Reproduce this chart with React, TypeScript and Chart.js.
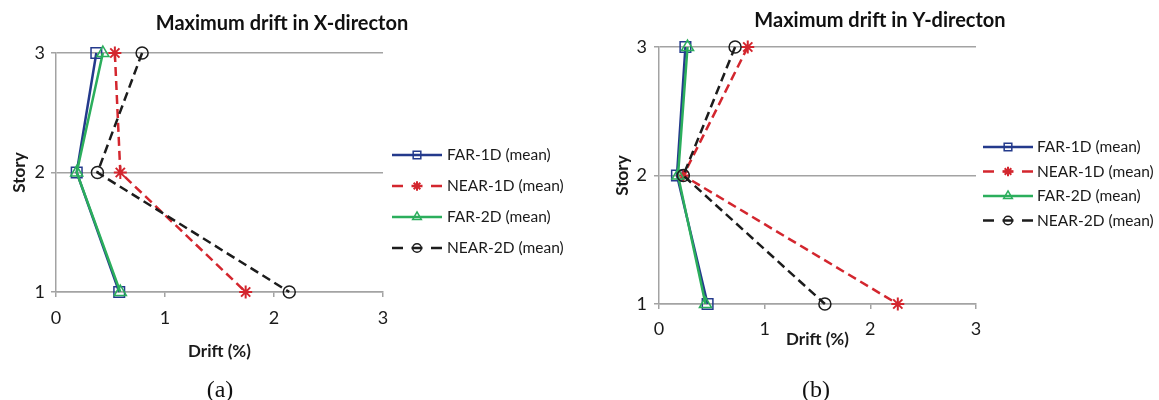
import React, { useEffect, useRef } from "react";
import { Chart, registerables } from "chart.js";
import { drawPoint } from "chart.js/helpers";

Chart.register(...registerables);

// ---------------- data ----------------
const stories = [3, 2, 1];
const driftTicks = [0, 1, 2, 3];
const seriesLabels = ["FAR-1D (mean)", "NEAR-1D (mean)", "FAR-2D (mean)", "NEAR-2D (mean)"];

// (a) X-direction
const farX1D = [0.37, 0.19, 0.58];
const nearX1D = [0.54, 0.59, 1.74];
const farX2D = [0.43, 0.19, 0.59];
const nearX2D = [0.79, 0.38, 2.14];

// (b) Y-direction
const farY1D = [0.25, 0.17, 0.46];
const nearY1D = [0.84, 0.23, 2.26];
const farY2D = [0.27, 0.18, 0.44];
const nearY2D = [0.72, 0.23, 1.57];

const titleA = "Maximum drift in X-directon";
const titleB = "Maximum drift in Y-directon";
const xAxisTitle = "Drift (%)";
const yAxisTitle = "Story";
const captionA = "(a)";
const captionB = "(b)";

// ---------------- styles ----------------
const FONT = "Lato";
const GRID = "#a3a3a3";
const seriesStyles = [
  { color: "#243a8c", dash: [] as number[], pointStyle: "rect", radius: 7.5, pbw: 1.5 },
  { color: "#d3262e", dash: [9, 5], pointStyle: "star", radius: 6.5, pbw: 2 },
  { color: "#2bae5c", dash: [] as number[], pointStyle: "triangle", radius: 7, pbw: 1.5 },
  { color: "#1c1c1c", dash: [9, 5], pointStyle: "circle", radius: 6, pbw: 1.5 },
];

const legendPlugin = {
  id: "sideLegend",
  afterDraw(chart: any, _args: any, opts: any) {
    const ctx = chart.ctx;
    ctx.save();
    chart.data.datasets.forEach((ds: any, i: number) => {
      const y = opts.y0 + i * opts.dy;
      const x0 = opts.x;
      const w = opts.w;
      ctx.strokeStyle = ds.borderColor;
      ctx.lineWidth = ds.borderWidth;
      ctx.setLineDash([]);
      ctx.lineCap = "butt";
      ctx.beginPath();
      if (ds.borderDash && ds.borderDash.length) {
        const segs = [
          [0, 11],
          [19.5, 30.5],
          [39, 50],
        ];
        segs.forEach(([a, b]) => {
          ctx.moveTo(x0 + (a * w) / 50, y);
          ctx.lineTo(x0 + (b * w) / 50, y);
        });
      } else {
        ctx.moveTo(x0, y);
        ctx.lineTo(x0 + w, y);
      }
      ctx.stroke();
      ctx.fillStyle = "rgba(0,0,0,0)";
      ctx.lineWidth = ds.pointBorderWidth;
      drawPoint(
        ctx,
        { pointStyle: ds.pointStyle, radius: ds.pointRadius * 0.72, borderWidth: ds.pointBorderWidth, rotation: 0 } as any,
        x0 + w / 2,
        y
      );
      ctx.fillStyle = "#1a1a1a";
      ctx.font = opts.font;
      ctx.textAlign = "left";
      ctx.textBaseline = "middle";
      ctx.fillText(ds.label, opts.textX, y);
    });
    ctx.restore();
  },
};

const titlePlugin = {
  id: "freeTitle",
  afterDraw(chart: any, _args: any, opts: any) {
    const ctx = chart.ctx;
    ctx.save();
    ctx.fillStyle = "#111";
    ctx.font = opts.font;
    ctx.textAlign = "center";
    ctx.textBaseline = "middle";
    ctx.fillText(opts.text, opts.x, opts.y);
    ctx.restore();
  },
};

type PanelProps = {
  series: number[][];
  title: string;
  layout: {
    width: number;
    plotLeft: number;
    plotRight: number;
    plotTop: number;
    plotBottom: number;
    xScaleHeight: number;
    xTitlePadBottom: number;
    yTitlePadTop: number;
    yTickPad: number;
    xTickPad: number;
    titleX: number;
    titleY: number;
    legendX: number;
    legendTextX: number;
    legendY0: number;
    legendDy: number;
  };
};

function Panel({ series, title, layout }: PanelProps) {
  const ref = useRef<HTMLCanvasElement | null>(null);
  useEffect(() => {
    if (!ref.current) return;
    const H = 400;
    const datasets = series.map((vals, i) => {
      const st = seriesStyles[i];
      return {
        label: seriesLabels[i],
        data: vals.map((v, j) => ({ x: v, y: stories[j] })),
        order: series.length - i,
        borderColor: st.color,
        backgroundColor: "rgba(0,0,0,0)",
        borderWidth: 2.5,
        borderDash: st.dash,
        pointStyle: st.pointStyle,
        pointRadius: st.radius,
        pointBorderWidth: st.pbw,
        pointBorderColor: st.color,
        pointBackgroundColor: "rgba(0,0,0,0)",
        tension: 0,
        fill: false,
        clip: false,
      };
    });
    const chart = new Chart(ref.current, {
      type: "line",
      data: { datasets } as any,
      plugins: [legendPlugin, titlePlugin],
      options: {
        animation: false,
        responsive: false,
        events: [],
        layout: {
          padding: {
            left: 0,
            top: layout.plotTop,
            right: layout.width - layout.plotRight,
            bottom: H - layout.plotBottom - layout.xScaleHeight,
          },
        },
        scales: {
          x: {
            type: "linear",
            min: driftTicks[0],
            max: driftTicks[driftTicks.length - 1],
            afterBuildTicks: (scale: any) => {
              scale.ticks = driftTicks.map((v) => ({ value: v }));
            },
            afterFit: (scale: any) => {
              scale.height = layout.xScaleHeight;
            },
            grid: { display: true, drawOnChartArea: false, drawTicks: true, tickLength: 5, color: GRID, lineWidth: 1.5 },
            border: { display: true, color: GRID, width: 1.5 },
            ticks: { color: "#1a1a1a", font: { family: FONT, size: 18 }, padding: layout.xTickPad, maxRotation: 0 },
            title: {
              display: true,
              text: xAxisTitle,
              color: "#1a1a1a",
              font: { family: FONT, size: 17, weight: "bold" },
              padding: { top: 0, bottom: layout.xTitlePadBottom },
            },
          },
          y: {
            type: "linear",
            min: stories[stories.length - 1],
            max: stories[0],
            afterBuildTicks: (scale: any) => {
              scale.ticks = stories.map((v) => ({ value: v }));
            },
            afterFit: (scale: any) => {
              scale.width = layout.plotLeft;
            },
            grid: { display: true, drawOnChartArea: true, drawTicks: true, tickLength: 5, color: GRID, lineWidth: 1.5 },
            border: { display: true, color: GRID, width: 1.5 },
            ticks: { color: "#1a1a1a", font: { family: FONT, size: 18 }, padding: layout.yTickPad },
            title: {
              display: true,
              text: yAxisTitle,
              color: "#1a1a1a",
              font: { family: FONT, size: 17, weight: "bold" },
              padding: { top: layout.yTitlePadTop, bottom: 0 },
            },
          },
        },
        plugins: {
          legend: { display: false },
          tooltip: { enabled: false },
          title: { display: false },
          sideLegend: {
            x: layout.legendX,
            w: 50,
            textX: layout.legendTextX,
            y0: layout.legendY0,
            dy: layout.legendDy,
            font: `15.5px ${FONT}`,
          },
          freeTitle: { text: title, x: layout.titleX, y: layout.titleY, font: `bold 20px ${FONT}` },
        } as any,
      } as any,
    });
    return () => chart.destroy();
  }, []);
  return <canvas ref={ref} width={layout.width} height={400} style={{ display: "block", width: layout.width, height: 400 }} />;
}

export default function App() {
  const captionStyle: React.CSSProperties = {
    position: "absolute",
    fontFamily: "'Liberation Serif', 'DejaVu Serif', serif",
    fontSize: 24,
    color: "#111",
    transform: "translate(-50%, -50%)",
    lineHeight: 1,
    whiteSpace: "nowrap",
  };
  return (
    <div style={{ position: "absolute", left: 0, top: 0, width: 1159, height: 400, background: "#fff", overflow: "hidden" }}>
      <div style={{ position: "absolute", left: 0, top: 0 }}>
        <Panel
          series={[farX1D, nearX1D, farX2D, nearX2D]}
          title={titleA}
          layout={{
            width: 580,
            plotLeft: 56,
            plotRight: 383,
            plotTop: 53,
            plotBottom: 292,
            xScaleHeight: 70,
            xTitlePadBottom: 0,
            yTitlePadTop: 9,
            yTickPad: 6,
            xTickPad: 10,
            titleX: 282,
            titleY: 24,
            legendX: 392,
            legendTextX: 447,
            legendY0: 155,
            legendDy: 31,
          }}
        />
      </div>
      <div style={{ position: "absolute", left: 580, top: 0 }}>
        <Panel
          series={[farY1D, nearY1D, farY2D, nearY2D]}
          title={titleB}
          layout={{
            width: 579,
            plotLeft: 79,
            plotRight: 396,
            plotTop: 47,
            plotBottom: 304,
            xScaleHeight: 48,
            xTitlePadBottom: 2,
            yTitlePadTop: 32,
            yTickPad: 7,
            xTickPad: 9,
            titleX: 300,
            titleY: 21,
            legendX: 403,
            legendTextX: 457,
            legendY0: 147,
            legendDy: 24.5,
          }}
        />
      </div>
      <div style={{ ...captionStyle, left: 220, top: 389 }}>{captionA}</div>
      <div style={{ ...captionStyle, left: 816, top: 389 }}>{captionB}</div>
    </div>
  );
}
